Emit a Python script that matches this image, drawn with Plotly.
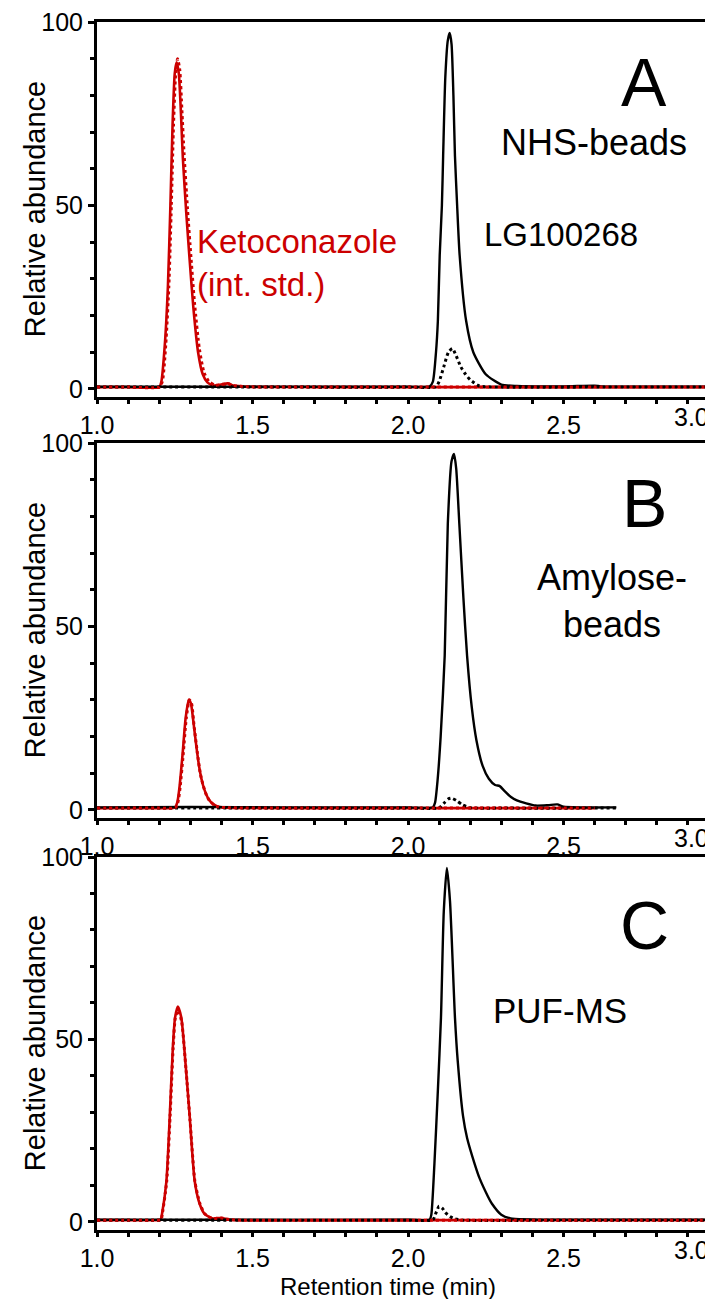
import plotly.graph_objects as go

# ---------------- data ----------------
# Panel A (NHS-beads)
a_red_x = [1.00, 1.10, 1.20, 1.207, 1.218, 1.228, 1.236, 1.243, 1.250, 1.256, 1.263, 1.270, 1.276, 1.287, 1.298, 1.310, 1.325, 1.340, 1.355, 1.375, 1.400, 1.420, 1.440, 1.480, 1.70, 2.00, 2.30, 2.60, 3.00]
a_red_y = [0.5, 0.5, 0.5, 2.0, 12, 28, 50, 72, 86, 89, 86, 75, 63, 48, 35, 22, 10, 4.0, 1.8, 0.9, 1.2, 1.5, 0.9, 0.6, 0.5, 0.5, 0.5, 0.5, 0.5]
a_redd_x = [1.00, 1.10, 1.20, 1.210, 1.221, 1.231, 1.239, 1.246, 1.253, 1.259, 1.266, 1.273, 1.280, 1.291, 1.302, 1.314, 1.329, 1.344, 1.360, 1.380, 1.400, 1.420, 1.440, 1.480, 1.70, 2.00, 2.30, 2.60, 3.00]
a_redd_y = [0.5, 0.5, 0.5, 2.0, 12, 28, 50, 72, 86, 90, 87, 76, 64, 49, 36, 23, 11, 4.5, 2.0, 1.0, 1.2, 1.4, 0.9, 0.6, 0.5, 0.5, 0.5, 0.5, 0.5]
a_blk_x = [1.00, 1.50, 2.00, 2.070, 2.080, 2.090, 2.096, 2.102, 2.109, 2.113, 2.120, 2.128, 2.134, 2.140, 2.146, 2.151, 2.158, 2.166, 2.187, 2.210, 2.250, 2.300, 2.350, 2.500, 2.600, 2.620, 2.700, 3.00]
a_blk_y = [0.6, 0.6, 0.6, 0.7, 2.0, 10, 18.5, 36.5, 50, 63.5, 85, 95, 97, 94, 80, 63.5, 50, 36.5, 18.5, 10, 4.0, 1.2, 0.8, 0.7, 0.9, 0.7, 0.6, 0.6]
a_blkd_x = [1.00, 1.50, 2.00, 2.090, 2.100, 2.115, 2.130, 2.143, 2.155, 2.170, 2.185, 2.200, 2.230, 2.300, 2.600, 3.00]
a_blkd_y = [0.5, 0.5, 0.5, 0.6, 2.0, 6.0, 10, 11, 9.0, 6.0, 4.0, 2.5, 0.8, 0.5, 0.5, 0.5]

# Panel B (Amylose-beads)
b_red_x = [1.00, 1.10, 1.20, 1.250, 1.258, 1.265, 1.275, 1.285, 1.295, 1.302, 1.310, 1.320, 1.330, 1.340, 1.350, 1.360, 1.375, 1.390, 1.420, 1.70, 2.00, 2.30, 2.60]
b_red_y = [0.5, 0.5, 0.5, 0.6, 2.0, 6.0, 15, 25, 30, 29, 24, 17, 11, 7.0, 4.5, 2.8, 1.5, 0.9, 0.6, 0.5, 0.5, 0.5, 0.5]
b_redd_x = [1.00, 1.10, 1.20, 1.252, 1.260, 1.267, 1.277, 1.287, 1.297, 1.304, 1.312, 1.322, 1.332, 1.342, 1.352, 1.362, 1.377, 1.392, 1.420, 1.70, 2.00, 2.30, 2.60]
b_redd_y = [0.5, 0.5, 0.5, 0.6, 2.0, 6.0, 15, 25, 30, 29, 23, 16, 10, 6.5, 4.0, 2.5, 1.3, 0.8, 0.6, 0.5, 0.5, 0.5, 0.5]
b_blk_x = [1.00, 1.30, 1.60, 2.00, 2.080, 2.087, 2.095, 2.105, 2.118, 2.128, 2.140, 2.148, 2.155, 2.165, 2.178, 2.190, 2.205, 2.220, 2.240, 2.260, 2.280, 2.295, 2.310, 2.330, 2.350, 2.380, 2.410, 2.450, 2.480, 2.500, 2.550, 2.670]
b_blk_y = [0.7, 0.8, 0.7, 0.7, 0.7, 2.0, 8.0, 20, 42, 78, 95, 97, 93, 78, 58, 42, 28, 19, 12, 8.5, 6.8, 6.5, 5.2, 3.6, 2.6, 1.8, 1.2, 1.3, 1.5, 0.9, 0.7, 0.7]
b_blkd_x = [1.00, 1.50, 2.00, 2.100, 2.115, 2.130, 2.140, 2.155, 2.175, 2.200, 2.300, 2.670]
b_blkd_y = [0.5, 0.5, 0.5, 0.6, 1.8, 3.0, 3.2, 2.6, 1.4, 0.6, 0.5, 0.5]

# Panel C (PUF-MS)
c_red_x = [1.00, 1.10, 1.20, 1.205, 1.209, 1.223, 1.234, 1.244, 1.251, 1.260, 1.271, 1.285, 1.298, 1.314, 1.330, 1.346, 1.370, 1.400, 1.430, 1.70, 2.00, 2.30, 2.60, 3.00]
c_red_y = [0.5, 0.5, 0.5, 0.6, 2.2, 11, 29, 48, 56, 59, 56, 43, 29, 11.3, 5.0, 2.2, 1.0, 1.1, 0.6, 0.5, 0.5, 0.5, 0.5, 0.5]
c_redd_x = [1.00, 1.10, 1.20, 1.206, 1.210, 1.224, 1.235, 1.245, 1.252, 1.261, 1.272, 1.286, 1.299, 1.315, 1.331, 1.347, 1.370, 1.400, 1.430, 1.70, 2.00, 2.30, 2.60, 3.00]
c_redd_y = [0.5, 0.5, 0.5, 0.6, 2.2, 11, 29, 48, 56, 58, 55, 42, 28, 11, 5.0, 2.2, 1.0, 1.1, 0.6, 0.5, 0.5, 0.5, 0.5, 0.5]
c_blk_x = [1.00, 1.50, 2.00, 2.070, 2.075, 2.085, 2.096, 2.106, 2.115, 2.125, 2.135, 2.151, 2.160, 2.177, 2.190, 2.214, 2.230, 2.257, 2.270, 2.300, 2.330, 2.500, 3.00]
c_blk_y = [0.6, 0.6, 0.6, 0.7, 2.0, 16, 36, 56, 85, 97, 88, 56, 44, 29, 23, 16, 12, 7.0, 5.0, 2.0, 1.0, 0.6, 0.6]
c_blkd_x = [1.00, 1.50, 2.00, 2.080, 2.090, 2.100, 2.110, 2.120, 2.135, 2.150, 2.180, 2.500, 3.00]
c_blkd_y = [0.5, 0.5, 0.5, 0.6, 2.5, 4.3, 3.8, 2.6, 1.5, 0.9, 0.5, 0.5, 0.5]

x_tick_vals = [1.0, 1.5, 2.0, 2.5]
x_tick_text = ["1.0", "1.5", "2.0", "2.5"]
last_x_tick = 3.0
y_tick_vals = [0, 50, 100]
y_tick_text = ["0", "50", "100"]

panel_letters = ["A", "B", "C"]
panel_captions = ["NHS-beads", "Amylose-<br>beads", "PUF-MS"]

RED = "#cc0000"
BLACK = "#000000"
FONT = "Liberation Sans, Arial, sans-serif"
W, H = 713, 1299


def px(x):
    return x / W


def py(y):
    return 1 - y / H


panels = [
    (a_red_x, a_red_y, a_redd_x, a_redd_y, a_blk_x, a_blk_y, a_blkd_x, a_blkd_y),
    (b_red_x, b_red_y, b_redd_x, b_redd_y, b_blk_x, b_blk_y, b_blkd_x, b_blkd_y),
    (c_red_x, c_red_y, c_redd_x, c_redd_y, c_blk_x, c_blk_y, c_blkd_x, c_blkd_y),
]
# pixel geometry of the three boxes (top, bottom)
boxes = [(14, 389), (435, 810), (849, 1222)]
letter_offsets = [60, 60, 68]

fig = go.Figure()
for i, (rx, ry, rdx, rdy, bx, by, bdx, bdy) in enumerate(panels):
    xa = "x" if i == 0 else f"x{i+1}"
    ya = "y" if i == 0 else f"y{i+1}"
    common = dict(xaxis=xa, yaxis=ya, mode="lines", showlegend=False, hoverinfo="skip")
    fig.add_trace(go.Scatter(x=rx, y=ry, line=dict(color=RED, width=2.6, shape="spline", smoothing=0.6), **common))
    fig.add_trace(go.Scatter(x=bx, y=by, line=dict(color=BLACK, width=2.4, shape="spline", smoothing=0.6), **common))
    fig.add_trace(go.Scatter(x=bdx, y=bdy, line=dict(color=BLACK, width=3, dash="dot", shape="spline", smoothing=0.6), **common))
    fig.add_trace(go.Scatter(x=rdx, y=rdy, line=dict(color=RED, width=3, dash="dot", shape="spline", smoothing=0.6), **common))

layout = dict(
    width=W, height=H,
    margin=dict(l=0, r=0, t=0, b=0, autoexpand=False),
    paper_bgcolor="white", plot_bgcolor="white",
    font=dict(family=FONT, color="black"),
)
annotations = []
for i, (top, bot) in enumerate(boxes):
    sfx = "" if i == 0 else str(i + 1)
    layout["xaxis" + sfx] = dict(
        domain=[px(89), px(711)], range=[1.0, 3.0], anchor="y" + sfx, automargin=False,
        showline=True, linewidth=3, linecolor="black", mirror=True,
        tickvals=x_tick_vals, ticktext=x_tick_text, ticks="outside", ticklen=4, tickwidth=3,
        tickcolor="black", tickfont=dict(size=25, family=FONT), ticklabeloverflow="allow",
        minor=dict(dtick=0.1, tick0=1.0, ticks="outside", ticklen=4, tickwidth=3, tickcolor="black", showgrid=False),
        showgrid=False, zeroline=False, fixedrange=True,
    )
    layout["yaxis" + sfx] = dict(
        domain=[py(bot), py(top)], range=[-2.2, 100], anchor="x" + sfx, automargin=False,
        showline=True, linewidth=3, linecolor="black", mirror=True,
        tickvals=y_tick_vals, ticktext=y_tick_text, ticks="outside", ticklen=6, tickwidth=3,
        tickcolor="black", tickfont=dict(size=25, family=FONT), ticklabeloverflow="allow",
        minor=dict(dtick=10, tick0=0, ticks="outside", ticklen=4, tickwidth=3, tickcolor="black", showgrid=False),
        showgrid=False, zeroline=False, fixedrange=True,
    )
    # last x tick label, pulled inside the figure like in the original
    annotations.append(dict(x=last_x_tick, y=0, xref="x" + sfx, yref="y" + sfx + " domain",
                            text="3.0", showarrow=False, xanchor="right", yanchor="top",
                            xshift=-8, yshift=-4, font=dict(size=25, family=FONT)))
    # y title
    annotations.append(dict(x=px(27), y=49, xref="paper", yref="y" + sfx,
                            text="Relative abundance", textangle=-90, showarrow=False,
                            xanchor="center", yanchor="middle", font=dict(size=29, family=FONT)))
    # panel letter
    annotations.append(dict(x=px(636), y=py(top + letter_offsets[i]), xref="paper", yref="paper",
                            text=panel_letters[i], showarrow=False, xanchor="center", yanchor="middle",
                            font=dict(size=68, family=FONT)))

annotations.append(dict(x=px(586), y=py(135), xref="paper", yref="paper", text=panel_captions[0],
                        showarrow=False, xanchor="center", yanchor="middle", font=dict(size=36, family=FONT)))
annotations.append(dict(x=px(604), y=py(593), xref="paper", yref="paper", text=panel_captions[1],
                        showarrow=False, xanchor="center", yanchor="middle", align="center",
                        font=dict(size=36, family=FONT)))
annotations.append(dict(x=px(552), y=py(1002), xref="paper", yref="paper", text=panel_captions[2],
                        showarrow=False, xanchor="center", yanchor="middle", font=dict(size=35, family=FONT)))
annotations.append(dict(x=px(553), y=py(226), xref="paper", yref="paper", text="LG100268",
                        showarrow=False, xanchor="center", yanchor="middle", font=dict(size=33, family=FONT)))
annotations.append(dict(x=px(187), y=py(255), xref="paper", yref="paper", text="Ketoconazole<br>(int. std.)",
                        showarrow=False, xanchor="left", yanchor="middle", align="left",
                        font=dict(size=33, family=FONT, color=RED)))
annotations.append(dict(x=px(380), y=0, xref="paper", yref="paper", text="Retention time (min)",
                        showarrow=False, xanchor="center", yanchor="bottom", yshift=5,
                        font=dict(size=24, family=FONT)))
layout["annotations"] = annotations
fig.update_layout(**layout)
fig.write_html("out.html")
